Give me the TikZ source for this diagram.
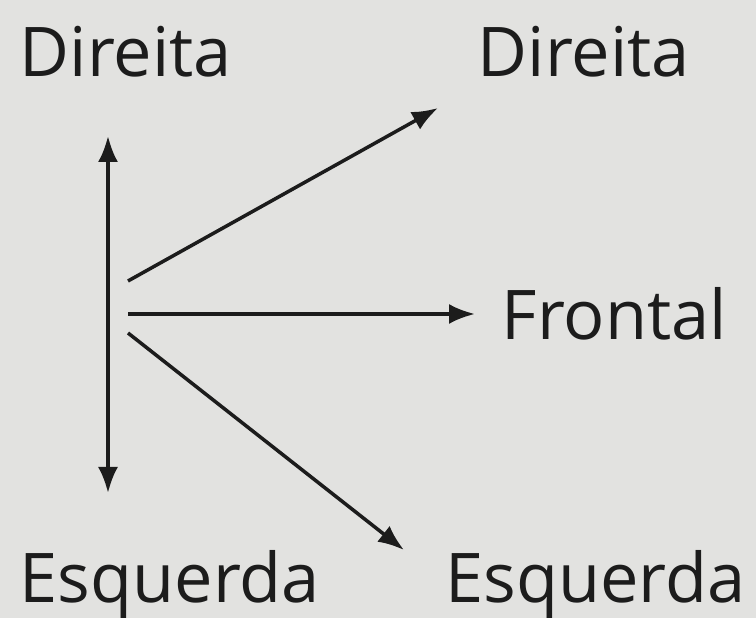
\documentclass[tikz,border=0pt]{standalone}
\usepackage{fontspec}
\setmainfont{Open Sans}
\usepackage{tikz}
\usetikzlibrary{arrows.meta}

\definecolor{paper}{RGB}{226,226,224}
\definecolor{ink}{RGB}{28,28,28}

\begin{document}
\begin{tikzpicture}[every node/.style={inner sep=0pt, anchor=base west, text=ink, font=\fontsize{19.5}{22}\selectfont},
  dir/.style={ink, line width=1pt, -{Latex[length=2.6mm, width=2mm]}}]
  \fill[paper] (0,0) rectangle (7.56,6.18);
  \useasboundingbox (0,0) rectangle (7.56,6.18);
  \node (dirL) at (0.19, 5.41) {Direita};
  \node (dirR) at (4.77, 5.41) {Direita};
  \node (front) at (5.01, 2.78) {Frontal};
  \node (esqL) at (0.19, 0.15) {Esquerda};
  \node (esqR) [anchor=base east] at (7.46, 0.15) {Esquerda};
  \coordinate (up) at (1.08, 4.82);
  \coordinate (down) at (1.08, 1.25);
  \coordinate (o1) at (1.28, 3.37);
  \coordinate (o2) at (1.28, 3.04);
  \coordinate (o3) at (1.28, 2.85);
  \coordinate (t1) at (4.38, 5.10);
  \coordinate (t2) at (4.75, 3.04);
  \coordinate (t3) at (4.04, 0.68);
  \draw [dir, {Latex[length=2.6mm, width=2mm]}-{Latex[length=2.6mm, width=2mm]}] (up) -- (down);
  \draw [dir] (o1) -- (t1);
  \draw [dir] (o2) -- (t2);
  \draw [dir] (o3) -- (t3);
\end{tikzpicture}
\end{document}
